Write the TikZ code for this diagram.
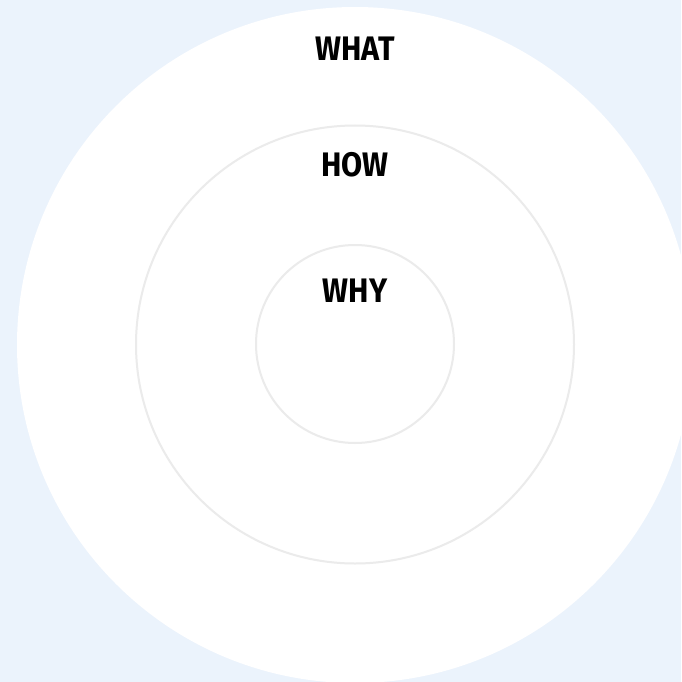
\documentclass[tikz,border=0pt]{standalone}
\usepackage{fontspec}
\setmainfont{Fira Sans}
\definecolor{bgblue}{HTML}{EBF3FC}
\definecolor{ringgray}{HTML}{EBEBEB}
\tikzset{
  ring/.style={draw=ringgray, line width=2pt, fill=white},
  lbl/.style={font=\bfseries\fontsize{34}{34}\selectfont, text=black, xscale=0.9, inner sep=0pt, anchor=center}
}
\begin{document}
\begin{tikzpicture}[x=1pt,y=-1pt]
\fill[bgblue] (0,0) rectangle (681,682);
\useasboundingbox (0,0) rectangle (681,682);
\begin{scope}
\clip (0,0) rectangle (681,682);
\fill[white] (355,345) circle[radius=338];
\end{scope}
\node[ring, circle, minimum size=438pt, inner sep=0pt] (how) at (355,344.5) {};
\node[ring, circle, minimum size=198pt, inner sep=0pt] (why) at (355,344) {};
\node[lbl] (twhat) at (355,49) {WHAT};
\node[lbl] (thow) at (355,165) {HOW};
\node[lbl] (twhy) at (355,291) {WHY};
\end{tikzpicture}
\end{document}
